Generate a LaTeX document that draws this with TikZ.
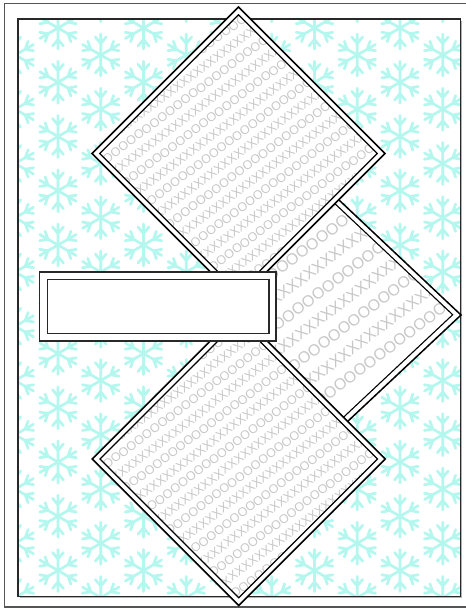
\documentclass[tikz,border=0pt]{standalone}
\usepackage{fontspec}
\newfontfamily\patfont{Liberation Sans}
\usetikzlibrary{calc}
\definecolor{flakecol}{RGB}{180,247,238}
\definecolor{patgray}{RGB}{200,200,200}
\definecolor{framecol}{RGB}{40,40,40}
\definecolor{outercol}{RGB}{85,85,85}
\newcommand\patXs{XXXXXXXXXXXXXXXXXXXXXXXXXXXXX}
\newcommand\patOs{OOOOOOOOOOOOOOOOOOOOOOOOO}
\newcommand\patXt{XXXXXXXXXXXXXXXXXXXXX}
\newcommand\patOt{OOOOOOOOOOOOOOOOOO}
\newcommand\patXl{XXXXXXXXXXXXXXXXXXXX}
\newcommand\patOl{OOOOOOOOOOOOOOOOO}
\newcommand\patang{37}
\tikzset{
  flakeline/.style={draw=flakecol, line width=2.7pt, line cap=round},
  flake/.pic={\foreach \a in {30,90,...,330}{\path[flakeline,rotate=\a] (0,0)--(21,0) (11.5,0)--++(40:8.5) (11.5,0)--++(-40:8.5);}},
  patnode/.style={inner sep=0pt, text=patgray, anchor=center},
  diaouter/.style={draw=black, line width=1.5pt, line join=miter},
  diainner/.style={draw=black, line width=1.1pt, line join=miter},
  boxline/.style={draw=framecol, line width=1.6pt, fill=white, inner sep=0pt},
}
% #1 prefix, #2 inset factor, #3 font size, #4 row spacing, #5..#6 row range, #7 X text, #8 O text
\newcommand\drawdia[8]{%
  \fill[white] (#1N)--(#1E)--(#1S)--(#1W)--cycle;
  \begin{scope}
    \clip ($(#1C)!#2!(#1N)$)--($(#1C)!#2!(#1E)$)--($(#1C)!#2!(#1S)$)--($(#1C)!#2!(#1W)$)--cycle;
    \begin{scope}[shift={(#1C)}]
      \foreach \r in {#5,...,#6} {
        \ifodd\r\relax \def\rowtxt{#8}\else \def\rowtxt{#7}\fi
        \ifnum\r>6\relax \ifodd\r\relax\def\rowtxt{\patOt}\else\def\rowtxt{\patXt}\fi\fi
        \ifnum\r<-6\relax \ifodd\r\relax\def\rowtxt{\patOt}\else\def\rowtxt{\patXt}\fi\fi
        \node[patnode, font=\patfont\fontsize{#3}{#3}\selectfont, rotate=\patang]
          at ({\r*#4*sin(\patang)}, {\r*#4*cos(\patang)}) {\rowtxt};
      }
    \end{scope}
  \end{scope}
  \draw[diaouter] (#1N)--(#1E)--(#1S)--(#1W)--cycle;
  \draw[diainner] ($(#1C)!#2!(#1N)$)--($(#1C)!#2!(#1E)$)--($(#1C)!#2!(#1S)$)--($(#1C)!#2!(#1W)$)--cycle;
}
\begin{document}
\begin{tikzpicture}[x=1pt,y=-1pt]
  \useasboundingbox[fill=white] (0,0) rectangle (466,608);
  % snowflake background
  \begin{scope}
    \clip (18,19) rectangle (460.5,596.5);
    \foreach \k in {0,...,10} {
      \pgfmathsetmacro\fx{15.25+42.75*\k}
      \pgfmathsetmacro\fy{isodd(\k) ? 28 : 55}
      \foreach \j in {-1,...,11} {
        \pic at ({\fx},{\fy+54.25*\j}) {flake};
      }
    }
  \end{scope}
  % frames
  \draw[gray!60, line width=1.2pt] (461.8,20.5)--(461.8,597.8)--(19.5,597.8);
  \draw[framecol, line width=1.6pt] (18,19) rectangle (460.5,596.5);
  \draw[outercol, line width=1.5pt] (467,3.5)--(4.5,3.5)--(4.5,607)--(467,607);
  % right diamond (behind)
  \coordinate (rN) at (326.8,188.5);
  \coordinate (rE) at (461,315);
  \coordinate (rS) at (335.6,432.7);
  \coordinate (rW) at (201.4,306.2);
  \coordinate (rC) at (331.2,310.6);
  \drawdia{r}{0.936}{16}{21.5}{-4}{3}{\patXl}{\patOl}
  % top diamond
  \coordinate (tN) at (238.5,7);
  \coordinate (tE) at (385,153.5);
  \coordinate (tS) at (238.5,300);
  \coordinate (tW) at (92,153.5);
  \coordinate (tC) at (238.5,153.5);
  \drawdia{t}{0.947}{12.5}{15}{-7}{7}{\patXs}{\patOs}
  % bottom diamond
  \coordinate (bN) at (238.75,312.5);
  \coordinate (bE) at (385.25,459);
  \coordinate (bS) at (238.75,605.5);
  \coordinate (bW) at (92.25,459);
  \coordinate (bC) at (238.75,459);
  \drawdia{b}{0.947}{12.5}{15}{-7}{7}{\patXs}{\patOs}
  % label box
  \node[boxline, minimum width=236.7pt, minimum height=69pt] (labelouter) at (157.65,306.2) {};
  \node[boxline, minimum width=221.4pt, minimum height=54pt] (labelinner) at (158,306.3) {};
\end{tikzpicture}
\end{document}
